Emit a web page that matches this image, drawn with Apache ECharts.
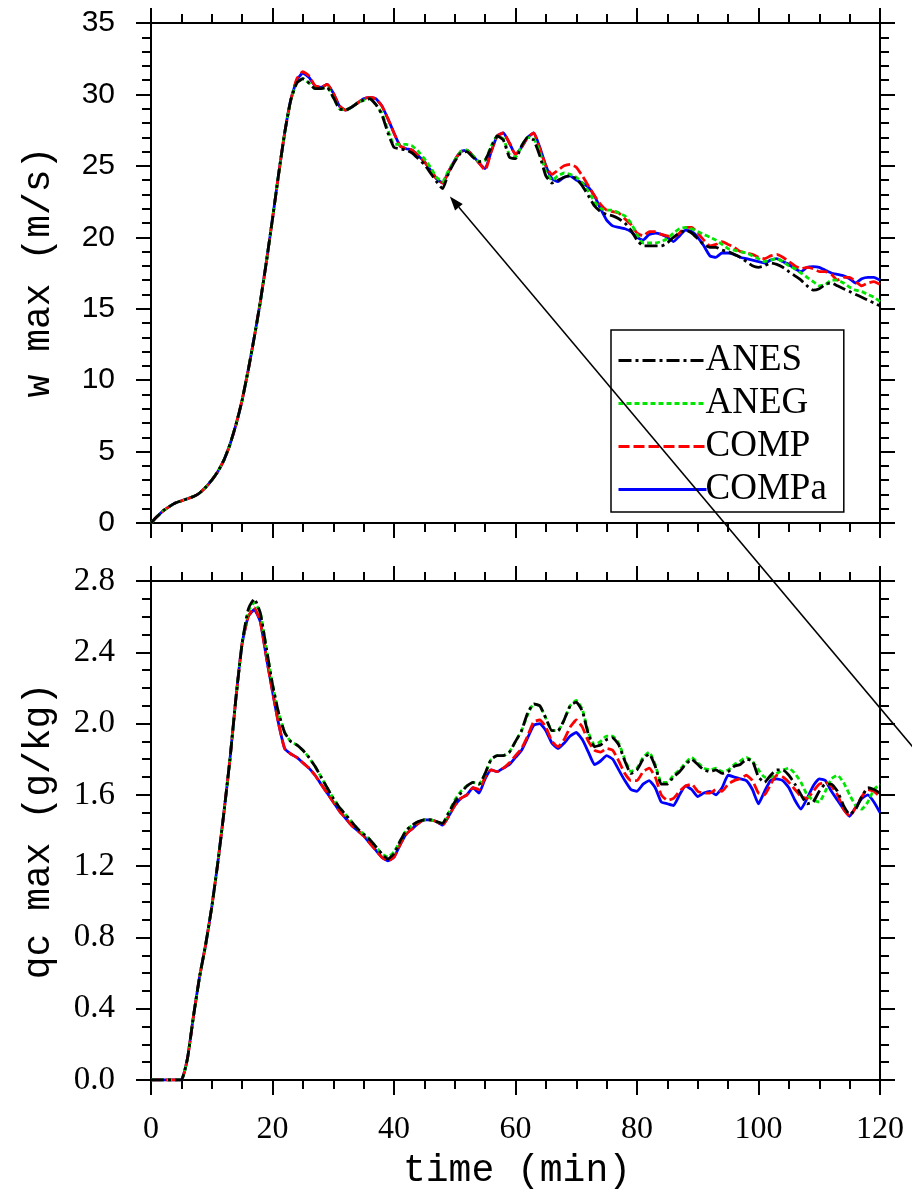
<!DOCTYPE html>
<html>
<head>
<meta charset="utf-8">
<script src="https://cdn.jsdelivr.net/npm/echarts@6/dist/echarts.min.js"></script>
<style>
  html, body { margin: 0; padding: 0; background: #fff; }
  #chart { width: 912px; height: 1191px; }
</style>
</head>
<body>
<div id="chart"></div>
<script>
// Model time (min), one sample per minute
const timeMin = [
  0,1,2,3,4,5,6,7,8,9,10,11,12,13,14,15,16,17,18,19,
  20,21,22,23,24,25,26,27,28,29,30,31,32,33,34,35,36,37,38,39,
  40,41,42,43,44,45,46,47,48,49,50,51,52,53,54,55,56,57,58,59,
  60,61,62,63,64,65,66,67,68,69,70,71,72,73,74,75,76,77,78,79,
  80,81,82,83,84,85,86,87,88,89,90,91,92,93,94,95,96,97,98,99,
  100,101,102,103,104,105,106,107,108,109,110,111,112,113,114,115,116,117,118,119,
  120
];

// Maximum vertical velocity w (m/s)
const wANES = [
  0.0,0.45,0.85,1.15,1.4,1.55,1.7,1.85,2.1,2.5,
  3.0,3.6,4.4,5.5,6.9,8.6,10.7,13.0,15.5,18.3,
  21.3,24.4,27.3,29.6,30.8,31.1,30.8,30.4,30.4,30.5,
  29.8,29.0,28.9,29.1,29.4,29.6,29.7,29.3,28.6,27.3,
  26.3,26.2,26.1,25.9,25.5,25.1,24.5,23.9,23.4,24.5,
  25.3,25.9,26.0,25.6,25.3,25.4,26.3,27.1,26.8,25.6,
  25.5,26.4,27.0,26.8,25.7,24.3,23.8,24.0,24.2,24.3,
  24.1,23.6,22.9,22.2,21.8,21.6,21.5,21.3,21.0,20.5,
  19.8,19.4,19.4,19.4,19.4,19.6,20.0,20.3,20.5,20.3,
  19.9,19.5,19.3,19.3,19.1,19.0,18.8,18.6,18.3,18.0,
  17.9,18.0,18.2,18.1,17.9,17.6,17.3,17.0,16.6,16.3,
  16.4,16.7,16.8,16.6,16.4,16.2,16.0,15.8,15.6,15.4,
  15.2
];
const wANEG = [
  0.0,0.45,0.85,1.15,1.4,1.55,1.7,1.85,2.1,2.5,
  3.0,3.6,4.4,5.5,6.9,8.6,10.7,13.0,15.5,18.3,
  21.3,24.4,27.3,29.6,30.8,31.1,30.8,30.4,30.4,30.5,
  29.8,29.0,28.9,29.1,29.4,29.6,29.7,29.3,28.7,27.5,
  26.5,26.5,26.5,26.4,26.0,25.5,24.9,24.2,23.9,24.7,
  25.4,26.0,26.1,25.7,25.3,25.4,26.4,27.1,26.9,25.8,
  25.6,26.4,27.0,26.9,26.0,24.6,24.0,24.3,24.5,24.4,
  24.2,23.8,23.2,22.5,22.0,21.9,21.9,21.7,21.5,21.0,
  20.2,19.6,19.6,19.6,19.7,19.9,20.3,20.6,20.7,20.6,
  20.4,20.2,20.0,19.8,19.5,19.2,19.1,19.0,18.9,18.7,
  18.5,18.3,18.4,18.5,18.3,18.0,17.8,17.5,17.2,16.9,
  16.6,16.7,17.0,17.0,16.8,16.5,16.3,16.2,16.0,15.8,
  15.5
];
const wCOMP = [
  0.0,0.45,0.85,1.15,1.4,1.55,1.7,1.85,2.1,2.5,
  3.0,3.6,4.4,5.5,6.9,8.6,10.7,13.0,15.5,18.3,
  21.3,24.4,27.3,29.6,31.1,31.6,31.3,30.6,30.5,30.7,
  30.1,29.2,28.9,29.1,29.4,29.7,29.8,29.7,29.2,28.3,
  27.3,26.4,26.2,26.1,25.7,25.3,24.7,24.1,23.8,24.6,
  25.4,26.0,26.1,25.7,25.2,24.7,26.0,27.1,27.3,26.6,
  25.8,26.3,27.0,27.3,26.2,25.0,24.4,24.7,25.0,25.1,
  24.9,24.3,23.6,22.9,22.3,21.9,21.8,21.7,21.3,20.9,
  20.3,20.1,20.4,20.4,20.2,20.1,20.0,20.3,20.7,20.7,
  20.3,19.8,19.4,19.5,19.7,19.5,19.3,19.0,18.9,18.8,
  18.6,18.5,18.7,18.8,18.6,18.3,18.0,17.8,17.9,17.8,
  17.6,17.6,17.4,17.0,17.2,17.2,16.9,16.6,16.8,16.9,
  16.7
];
const wCOMPa = [
  0.0,0.45,0.85,1.15,1.4,1.55,1.7,1.85,2.1,2.5,
  3.0,3.6,4.4,5.5,6.9,8.6,10.7,13.0,15.5,18.3,
  21.3,24.4,27.3,29.6,31.0,31.5,31.2,30.6,30.5,30.7,
  30.1,29.2,28.9,29.1,29.4,29.7,29.8,29.7,29.2,28.3,
  27.3,26.4,26.2,26.1,25.7,25.3,24.7,24.1,23.8,24.6,
  25.4,26.0,26.1,25.7,25.2,24.8,26.0,27.1,27.3,26.6,
  25.8,26.3,27.0,27.3,26.3,25.0,24.1,23.9,24.2,24.3,
  24.0,23.8,23.5,22.9,22.0,21.2,20.8,20.7,20.6,20.4,
  20.0,19.8,20.2,20.3,20.2,20.0,19.7,20.1,20.5,20.4,
  20.0,19.4,18.7,18.6,18.9,18.9,18.8,18.6,18.5,18.4,
  18.3,18.2,18.4,18.5,18.3,18.1,17.8,17.6,17.9,17.95,
  17.9,17.7,17.5,17.4,17.3,17.1,16.8,17.1,17.2,17.2,
  17.0
];

// Maximum cloud water mixing ratio qc (g/kg)
const qANES = [
  0,0,0,0,0,0,0.12,0.36,0.58,0.76,
  0.97,1.22,1.5,1.8,2.15,2.45,2.64,2.70,2.62,2.42,
  2.22,2.06,1.95,1.90,1.88,1.85,1.81,1.76,1.70,1.64,
  1.58,1.53,1.49,1.45,1.41,1.38,1.35,1.31,1.27,1.24,
  1.27,1.34,1.40,1.43,1.45,1.46,1.46,1.45,1.44,1.50,
  1.56,1.61,1.65,1.67,1.66,1.72,1.80,1.82,1.82,1.84,
  1.90,1.96,2.06,2.11,2.10,2.03,1.96,1.96,2.02,2.10,
  2.12,2.07,1.94,1.87,1.88,1.91,1.92,1.88,1.79,1.72,
  1.74,1.80,1.83,1.76,1.66,1.66,1.70,1.73,1.77,1.80,
  1.77,1.74,1.73,1.74,1.72,1.73,1.76,1.77,1.80,1.79,
  1.70,1.67,1.71,1.74,1.74,1.71,1.66,1.60,1.55,1.56,
  1.62,1.66,1.66,1.62,1.54,1.49,1.52,1.59,1.64,1.63,
  1.61
];
const qANEG = [
  0,0,0,0,0,0,0.12,0.36,0.58,0.76,
  0.97,1.22,1.5,1.8,2.15,2.45,2.63,2.68,2.62,2.42,
  2.22,2.06,1.95,1.90,1.88,1.85,1.81,1.76,1.70,1.64,
  1.58,1.53,1.49,1.45,1.41,1.38,1.35,1.31,1.27,1.25,
  1.28,1.34,1.40,1.43,1.45,1.46,1.46,1.45,1.44,1.50,
  1.57,1.62,1.65,1.67,1.66,1.72,1.80,1.82,1.82,1.84,
  1.90,1.96,2.05,2.11,2.10,2.03,1.96,1.96,2.02,2.10,
  2.13,2.08,1.95,1.88,1.90,1.93,1.93,1.89,1.80,1.73,
  1.75,1.81,1.84,1.77,1.67,1.67,1.71,1.74,1.78,1.81,
  1.78,1.75,1.74,1.75,1.73,1.74,1.77,1.79,1.81,1.79,
  1.74,1.70,1.70,1.72,1.74,1.75,1.72,1.67,1.60,1.57,
  1.56,1.62,1.69,1.71,1.67,1.60,1.54,1.52,1.56,1.63,
  1.66
];
const qCOMP = [
  0,0,0,0,0,0,0.12,0.36,0.58,0.76,
  0.97,1.22,1.5,1.8,2.15,2.45,2.6,2.65,2.57,2.37,
  2.18,2.00,1.86,1.83,1.81,1.78,1.75,1.71,1.66,1.61,
  1.56,1.51,1.47,1.43,1.40,1.37,1.33,1.29,1.25,1.23,
  1.25,1.32,1.38,1.41,1.44,1.46,1.46,1.45,1.43,1.48,
  1.54,1.58,1.60,1.64,1.63,1.70,1.74,1.73,1.75,1.78,
  1.82,1.86,1.93,2.01,2.02,1.98,1.90,1.87,1.91,1.98,
  2.02,1.98,1.90,1.85,1.84,1.86,1.85,1.79,1.72,1.68,
  1.68,1.73,1.75,1.70,1.60,1.57,1.58,1.62,1.65,1.66,
  1.62,1.61,1.61,1.63,1.62,1.66,1.68,1.69,1.71,1.68,
  1.61,1.60,1.66,1.71,1.70,1.67,1.63,1.59,1.58,1.62,
  1.66,1.67,1.65,1.60,1.52,1.48,1.53,1.59,1.63,1.62,
  1.59
];
const qCOMPa = [
  0,0,0,0,0,0,0.12,0.36,0.58,0.76,
  0.97,1.22,1.5,1.8,2.15,2.45,2.6,2.64,2.57,2.37,
  2.18,2.00,1.86,1.83,1.81,1.78,1.75,1.71,1.66,1.61,
  1.56,1.51,1.47,1.43,1.40,1.37,1.33,1.29,1.25,1.23,
  1.25,1.32,1.38,1.41,1.44,1.46,1.46,1.45,1.43,1.48,
  1.54,1.58,1.60,1.64,1.61,1.69,1.74,1.73,1.75,1.77,
  1.81,1.85,1.92,1.99,2.00,1.96,1.89,1.86,1.89,1.93,
  1.95,1.91,1.84,1.77,1.79,1.82,1.80,1.74,1.68,1.63,
  1.62,1.66,1.68,1.64,1.56,1.55,1.54,1.60,1.65,1.63,
  1.59,1.61,1.62,1.60,1.64,1.71,1.70,1.69,1.68,1.63,
  1.55,1.62,1.68,1.69,1.68,1.64,1.57,1.52,1.58,1.65,
  1.69,1.68,1.62,1.57,1.52,1.48,1.53,1.58,1.60,1.56,
  1.50
];

// Axis ranges and tick steps
const timeTicks = { min: 0, max: 120, step: 20, minorParts: 4 };
const wTicks = { min: 0, max: 35, step: 5, minorParts: 5 };
const qTicks = { min: 0, max: 2.8, step: 0.4, minorParts: 4 };

const runNames = ['ANES', 'ANEG', 'COMP', 'COMPa'];
const axisTitles = { w: 'w max (m/s)', qc: 'qc max (g/kg)', time: 'time (min)' };

// Annotation arrow pointing at the w minimum near 48 min (top panel data space)
const arrowTip = [49.2, 22.85];
const arrowTail = [129.0, -17.5];

// ---------------------------------------------------------------
const runStyles = {
  ANES:  { color: '#000000', dash: [13, 4, 3, 4] },
  ANEG:  { color: '#00e600', dash: [5, 3] },
  COMP:  { color: '#ff0000', dash: [11, 4] },
  COMPa: { color: '#0000ff', dash: 'solid' }
};

const LINE = { color: '#000', width: 2 };

function makeAxis(ticks, gridIndex, position, labelStyle) {
  const ax = {
    type: 'value',
    gridIndex: gridIndex,
    position: position,
    min: ticks.min,
    max: ticks.max,
    interval: ticks.step,
    axisLine: { show: true, onZero: false, lineStyle: LINE },
    axisTick: { show: true, inside: false, length: 15, lineStyle: LINE },
    minorTick: { show: true, splitNumber: ticks.minorParts, length: 9, lineStyle: LINE },
    splitLine: { show: false },
    minorSplitLine: { show: false },
    axisLabel: { show: false }
  };
  if (labelStyle) ax.axisLabel = Object.assign({ show: true, color: '#000' }, labelStyle);
  return ax;
}

const xAxes = [
  makeAxis(timeTicks, 0, 'bottom', null),
  makeAxis(timeTicks, 0, 'top', null),
  makeAxis(timeTicks, 1, 'bottom', {
    fontFamily: 'Liberation Serif', fontSize: 32, margin: 34,
    formatter: v => String(v)
  }),
  makeAxis(timeTicks, 1, 'top', null)
];
const yAxes = [
  makeAxis(wTicks, 0, 'left', {
    fontFamily: 'Liberation Sans', fontSize: 30, margin: 36,
    formatter: v => String(v)
  }),
  makeAxis(wTicks, 0, 'right', null),
  makeAxis(qTicks, 1, 'left', {
    fontFamily: 'Liberation Serif', fontSize: 33, margin: 36,
    formatter: v => v.toFixed(1)
  }),
  makeAxis(qTicks, 1, 'right', null)
];

function runSeries(name, values, axisIndex) {
  const st = runStyles[name];
  return {
    name: name,
    type: 'line',
    xAxisIndex: axisIndex,
    yAxisIndex: axisIndex,
    data: timeMin.map((t, i) => [t, values[i]]),
    symbol: 'none',
    showSymbol: false,
    smooth: 0.15,
    clip: true,
    itemStyle: { color: st.color },
    lineStyle: { color: st.color, width: 2.8, type: st.dash }
  };
}

// drawing order: solid blue underneath, dash-dot black on top
const series = [
  runSeries('COMPa', wCOMPa, 0),
  runSeries('COMP', wCOMP, 0),
  runSeries('ANEG', wANEG, 0),
  runSeries('ANES', wANES, 0),
  runSeries('COMPa', qCOMPa, 2),
  runSeries('COMP', qCOMP, 2),
  runSeries('ANEG', qANEG, 2),
  runSeries('ANES', qANES, 2)
];

const chart = echarts.init(document.getElementById('chart'), null, { renderer: 'canvas' });

chart.setOption({
  animation: false,
  backgroundColor: '#fff',
  grid: [
    { left: 151, top: 23, width: 729, height: 500 },
    { left: 151, top: 581, width: 729, height: 499 }
  ],
  xAxis: xAxes,
  yAxis: yAxes,
  legend: {
    data: runNames,
    orient: 'vertical',
    left: 611,
    top: 330,
    selectedMode: false,
    itemWidth: 88,
    itemHeight: 14,
    itemGap: 6,
    padding: [12, 17, 4, 6],
    borderColor: '#000',
    borderWidth: 1.5,
    backgroundColor: '#fff',
    itemStyle: { opacity: 0 },
    lineStyle: { width: 3 },
    textStyle: {
      fontFamily: 'Liberation Serif', fontSize: 37, color: '#000',
      lineHeight: 35, padding: [0, 0, 0, -6]
    }
  },
  series: series
});

// Axis titles and the annotation arrow
const tip = chart.convertToPixel({ xAxisIndex: 0, yAxisIndex: 0 }, arrowTip);
const tail = chart.convertToPixel({ xAxisIndex: 0, yAxisIndex: 0 }, arrowTail);
const dx = tail[0] - tip[0], dy = tail[1] - tip[1];
const len = Math.sqrt(dx * dx + dy * dy);
const ux = dx / len, uy = dy / len;
const headLen = 14, headHalf = 5;
const bx = tip[0] + ux * headLen, by = tip[1] + uy * headLen;

const titleFont = { fontFamily: 'Liberation Mono', fontSize: 38, fill: '#000',
  align: 'center', verticalAlign: 'middle', textAlign: 'center', textVerticalAlign: 'middle' };

chart.setOption({
  graphic: [
    { type: 'text', x: 39, y: 272, rotation: Math.PI / 2, z: 50,
      style: Object.assign({ text: axisTitles.w }, titleFont) },
    { type: 'text', x: 39, y: 831, rotation: Math.PI / 2, z: 50,
      style: Object.assign({ text: axisTitles.qc }, titleFont) },
    { type: 'text', x: 517, y: 1171, z: 50,
      style: Object.assign({ text: axisTitles.time }, titleFont) },
    { type: 'line', z: 60,
      shape: { x1: bx, y1: by, x2: tail[0], y2: tail[1] },
      style: { stroke: '#000', lineWidth: 1.5 } },
    { type: 'polygon', z: 60,
      shape: { points: [
        [tip[0], tip[1]],
        [bx - uy * headHalf, by + ux * headHalf],
        [bx + uy * headHalf, by - ux * headHalf]
      ] },
      style: { fill: '#000' } }
  ]
});
</script>
</body>
</html>
